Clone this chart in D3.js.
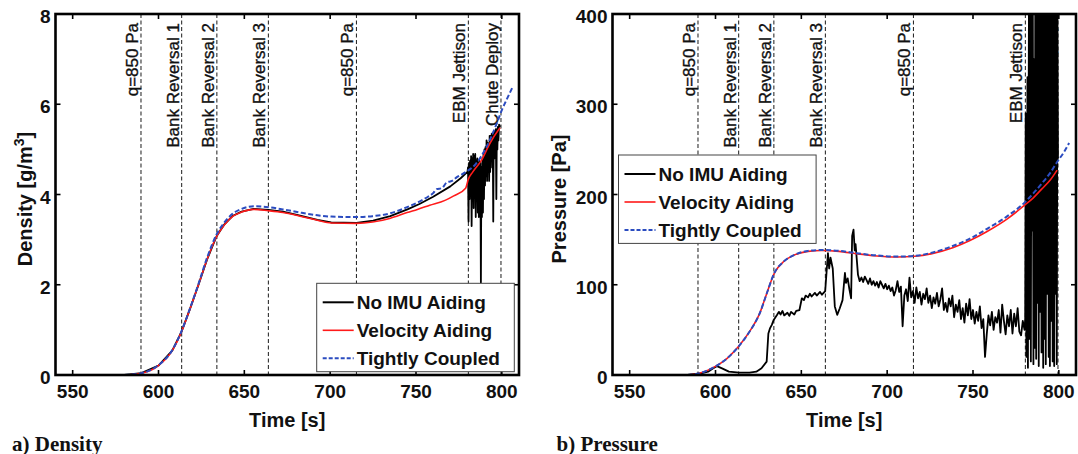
<!DOCTYPE html>
<html>
<head>
<meta charset="utf-8">
<script src="https://cdn.jsdelivr.net/npm/d3@7"></script>
<style>
  body { margin: 0; background: #fff; }
  svg text { font-family: "Liberation Sans", Arial, sans-serif; fill: #111; }
</style>
</head>
<body>
<svg id="chart" width="1078" height="454"></svg>
<script>

// ---- data ----

var xTicks = [550, 600, 650, 700, 750, 800];
var densityTicks = [0, 2, 4, 6, 8];
var pressureTicks = [0, 100, 200, 300, 400];

var seriesNames = ["No IMU Aiding", "Velocity Aiding", "Tightly Coupled"];

var eventTimes = [589.8, 613.5, 634, 664, 715.3, 780.5, 799.5];
var eventLabels = ["q=850 Pa", "Bank Reversal 1", "Bank Reversal 2", "Bank Reversal 3",
                   "q=850 Pa", "EBM Jettison", "Chute Deploy"];

// density [g/m^3]
var densityVelocity = [[580,0],[590,0.04],[600,0.21],[608,0.54],[613.3,0.95],[618.3,1.46],[623.3,2.0],
  [628.3,2.56],[633.9,3.07],[638.4,3.33],[643.4,3.52],[648.4,3.61],[655.4,3.67],[664,3.64],
  [672.5,3.6],[682.5,3.52],[692.6,3.43],[700.6,3.37],[715.3,3.36],[724.7,3.39],[734.7,3.47],
  [744.8,3.6],[750.8,3.67],[758,3.76],[766.9,3.87],[772,3.97],[778.9,4.14],[780.5,4.34],
  [782.9,4.49],[788,4.75],[793,5.13],[798,5.43],[799,5.48]];

var densityTight = [[580,0],[590,0.04],[600,0.22],[608,0.55],[613.3,0.96],[618.3,1.47],[623.3,2.02],
  [628.3,2.6],[633.9,3.12],[638.4,3.38],[643.4,3.58],[648.4,3.68],[655.4,3.74],[664,3.72],
  [672.5,3.67],[682.5,3.6],[692.6,3.54],[700.6,3.51],[715.3,3.5],[724.7,3.52],[734.7,3.58],
  [744.8,3.72],[752.8,3.86],[757,3.95],[760,4.03],[762,4.12],[765,4.14],[768,4.27],[771,4.3],
  [774,4.39],[777,4.45],[779,4.5],[784.9,4.68],[791,5.05],[797,5.57],[800,5.87],[803,6.12],[806,6.36]];

var densityNoImu = [[580,0],[590,0.04],[600,0.21],[608,0.54],[613.3,0.95],[618.3,1.46],[623.3,2.0],
  [628.3,2.56],[633.9,3.08],[638.4,3.34],[643.4,3.53],[648.4,3.62],[655.4,3.68],[664,3.66],
  [672.5,3.62],[682.5,3.53],[692.6,3.44],[700.6,3.38],[715.3,3.37],[725,3.42],[735,3.52],
  [745,3.67],[752,3.79],[760,3.95],[770,4.18],[776,4.36],[780,4.5],
  [780.3,4.6],[780.6,3.4],[780.9,4.7],[781.2,3.9],[781.5,4.75],[781.8,4.1],[782.1,4.85],
  [782.4,3.3],[782.7,4.8],[783,4.0],[783.3,4.9],[783.6,3.7],[783.9,4.85],[784.2,4.2],
  [784.5,4.9],[784.8,3.5],[785.1,4.75],[785.4,3.9],[785.7,4.8],[786,3.6],[786.3,4.7],
  [786.6,3.5],[786.9,4.75],[787.2,3.8],[787.5,4.7],[787.8,2.05],[788.1,4.6],[788.4,3.5],
  [788.7,4.8],[789,3.6],[789.3,4.9],[789.6,3.9],[789.9,5.0],[790.2,4.2],[790.5,5.05],
  [790.8,4.4],[791.1,5.2],[791.4,4.3],[791.7,5.15],[792,4.6],[792.3,5.1],[792.6,4.3],
  [792.9,5.3],[793.2,4.5],[793.5,5.3],[793.8,4.9],[794.1,5.35],[794.4,4.6],[794.7,5.3],
  [795,3.4],[795.3,5.4],[795.6,4.8],[795.9,5.4],[796.2,5.0],[796.5,5.45],[796.8,3.9],
  [797.1,5.45],[797.4,5.0],[797.7,5.5],[798,5.2],[798.4,5.55],[799,5.5]];

// pressure [Pa]
var pressureVelocity = [[583.7,0],[590.7,1.9],[599.7,9.3],[606.8,18.5],[613.4,31.5],[619.8,48],
  [625.8,68.5],[629.8,90],[634.3,113],[639.9,126],[645.9,133],[653.9,137],[661.9,138],[672,137],
  [682,134.4],[692,132.2],[706,130.7],[716.1,131.5],[726.1,134.5],[738.2,141],[748.2,149],
  [758.2,159],[770,173],[780,188],[785,196],[790,206],[795,216],[799,227]];

var pressureTight = [[583.7,0],[590.7,1.9],[599.7,9.3],[606.8,18.5],[613.4,31.5],[619.8,48],
  [625.8,68.5],[629.8,90],[634.3,113],[639.9,126],[645.9,133],[653.9,137.5],[661.9,138.5],[672,137.5],
  [682,135],[692,132.8],[706,131.2],[716.1,132],[726.1,135.5],[738.2,143],[748.2,151],
  [758.2,162],[770,176],[780,191],[785,201],[790,212],[795,224],[799,236],[803,247],[806,257]];

var pressureNoImu = [[583.7,0],[587,1],[591.7,1.9],[595.7,3.7],[598.7,7.4],[600.8,9.8],[603.8,7.4],
  [607.8,3.7],[613.8,2.6],[619.8,2.6],[623.8,3.7],[626.8,7.4],[629.8,14.8],[630.8,46],[631.8,52],
  [632.8,55.6],[633.9,61],[635.9,66.7],[636.9,70],[637.9,67],[639,71],[640,66],[641.9,69],
  [643,65.5],[644,70],[645.9,67],[647,71],[648.9,72],[650.3,85],[651.5,83],[652.5,88],
  [653.9,86],[655,90],[656,87],[657.9,91],[659,88],[660.9,92],[662,89],[663.9,93],[665.5,135],
  [666.2,118],[667,130],[668.3,118],[669.5,76],[670.9,66.7],[672.4,74],[674,83],[675.4,113],
  [676,102],[677,107],[678,95],[679,85],[679.6,154],[680.4,161],[681.1,138],[681.6,145],
  [683,111],[684,104],[685,108],[686,103],[687,109],[688,105],[689,101],[690,107],[691,100],
  [692,104],[693,99],[694,103],[695,97],[696,104],[697,100],[698,96],[699,101],[700,95],
  [701,99],[702,93],[703,97],[704,88],[705,94],[706,104],[707,92],[708,98],[709,54],[710,88],
  [711,95],[712,82],[713,108],[714,86],[715,93],[716,80],[717,97],[718,85],[719,92],[720,78],
  [721,90],[722,84],[723,96],[724,80],[725,88],[726,74],[727,86],[728,79],[729,91],[730,76],
  [731,84],[732,96],[733,72],[734,80],[735,70],[736,85],[737,76],[738,88],[739,64],[740,78],
  [741,70],[742,83],[743,62],[744,74],[745,58],[746,79],[747,66],[748,84],[749,62],[750,72],
  [751,57],[752,70],[753,60],[754,76],[755,52],[756,62],[757,20],[758,45],[759,66],[760,55],
  [761,70],[762,50],[763,64],[764,58],[765,72],[766,47],[767,78],[768,60],[769,45],[770,66],
  [771,54],[772,72],[773,46],[774,68],[775,54],[776,74],[777,48],[778,44],[779,60],[780,50],
  [780.4,62],[780.7,290],[781.1,20],[781.4,120],[781.7,330],[782,8],[782.3,230],[782.6,420],
  [783,40],[783.3,450],[783.7,15],[784.1,430],[784.4,160],[784.8,460],[785.2,12],[785.5,350],
  [786,30],[786.3,470],[786.8,18],[787.2,440],[787.5,80],[787.9,480],[788.3,10],[788.6,420],
  [789.1,70],[789.5,460],[789.9,25],[790.2,300],[790.5,440],[790.9,8],[791.3,470],[791.6,40],
  [792.1,430],[792.4,12],[792.9,460],[793.3,90],[793.6,450],[794.1,20],[794.4,480],[794.8,10],
  [795.3,440],[795.6,60],[796.1,470],[796.4,15],[796.8,450],[797.3,10],[797.6,460],[798,90],
  [798.4,470],[798.8,12],[799.2,400],[799.5,240]];

// ---- drawing ----

var svg = d3.select("#chart");
var colors = ["#000000", "#ff1a1a", "#2b4cc0"];
var widths = [1.8, 1.6, 2];
var dashes = [null, null, "5,2.5"];

function drawPanel(p) {
    var x = d3.scaleLinear().domain([540, 810]).range([p.left, p.right]);
    var y = d3.scaleLinear().domain(p.yDomain).range([p.bottom, p.top]);

    var g = svg.append("g");

    // clip region for the data
    g.append("clipPath").attr("id", p.id + "-clip")
        .append("rect")
        .attr("x", p.left).attr("y", p.top)
        .attr("width", p.right - p.left).attr("height", p.bottom - p.top);

    // event lines + labels (under the data)
    g.selectAll(".event").data(eventTimes).enter()
        .append("line")
        .attr("x1", function(d){ return x(d); })
        .attr("x2", function(d){ return x(d); })
        .attr("y1", p.top).attr("y2", p.bottom)
        .attr("stroke", "#000").attr("stroke-width", 0.9)
        .attr("stroke-dasharray", "4,2.5");

    g.selectAll(".evlabel").data(eventTimes).enter()
        .append("text")
        .attr("transform", function(d){ return "translate(" + (x(d) - 3) + "," + (p.top + 9) + ") rotate(-90)"; })
        .attr("text-anchor", "end")
        .style("font-size", "17px")
        .style("stroke", "#111").style("stroke-width", 0.35)
        .text(function(d, i){ return eventLabels[i]; });

    // data lines: black first, then red, then blue
    var lineRaw = d3.line()
        .x(function(d){ return x(d[0]); })
        .y(function(d){ return y(d[1]); });
    var lineSmooth = d3.line()
        .x(function(d){ return x(d[0]); })
        .y(function(d){ return y(d[1]); })
        .curve(d3.curveMonotoneX);

    var dataG = g.append("g").attr("clip-path", "url(#" + p.id + "-clip)");
    p.series.forEach(function(s, i) {
        dataG.append("path")
            .datum(s)
            .attr("d", i == 0 ? lineRaw : lineSmooth)
            .attr("fill", "none")
            .attr("stroke", colors[i])
            .attr("stroke-width", widths[i])
            .attr("stroke-linejoin", "round")
            .attr("stroke-dasharray", dashes[i]);
    });

    // ticks on all four sides, pointing in
    var tickLen = 5;
    xTicks.forEach(function(t) {
        g.append("line").attr("x1", x(t)).attr("x2", x(t))
            .attr("y1", p.bottom).attr("y2", p.bottom - tickLen)
            .attr("stroke", "#000").attr("stroke-width", 1.6);
        g.append("line").attr("x1", x(t)).attr("x2", x(t))
            .attr("y1", p.top).attr("y2", p.top + tickLen)
            .attr("stroke", "#000").attr("stroke-width", 1.6);
        g.append("text")
            .attr("x", x(t)).attr("y", p.bottom + 22.5)
            .attr("text-anchor", "middle")
            .style("font-size", "19px").style("font-weight", "bold")
            .text(t);
    });
    p.yTicks.forEach(function(t) {
        g.append("line").attr("x1", p.left).attr("x2", p.left + tickLen)
            .attr("y1", y(t)).attr("y2", y(t))
            .attr("stroke", "#000").attr("stroke-width", 1.6);
        g.append("line").attr("x1", p.right).attr("x2", p.right - tickLen)
            .attr("y1", y(t)).attr("y2", y(t))
            .attr("stroke", "#000").attr("stroke-width", 1.6);
        g.append("text")
            .attr("x", p.left - 5).attr("y", y(t) + 9)
            .attr("text-anchor", "end")
            .style("font-size", "19px").style("font-weight", "bold")
            .text(t);
    });

    // box
    g.append("rect")
        .attr("x", p.left).attr("y", p.top)
        .attr("width", p.right - p.left).attr("height", p.bottom - p.top)
        .attr("fill", "none").attr("stroke", "#000").attr("stroke-width", 2.6);

    // axis titles
    g.append("text")
        .attr("x", (p.left + p.right) / 2).attr("y", 427)
        .attr("text-anchor", "middle")
        .style("font-size", "20px").style("font-weight", "bold")
        .text("Time [s]");

    var yt = g.append("text")
        .attr("transform", "translate(" + p.yLabelX + ",199) rotate(-90)")
        .attr("text-anchor", "middle")
        .style("font-size", "20px").style("font-weight", "bold");
    yt.append("tspan").text(p.yLabel);
    if (p.yLabelSup) {
        yt.append("tspan").attr("dy", -8).style("font-size", "14px").text(p.yLabelSup);
        yt.append("tspan").attr("dy", 8).text(p.yLabelEnd);
    }

    // legend
    var lg = g.append("g").attr("transform", "translate(" + p.legendX + "," + p.legendY + ")");
    lg.append("rect")
        .attr("width", 197.6).attr("height", 88.4)
        .attr("fill", "#fff").attr("stroke", "#444").attr("stroke-width", 1);
    seriesNames.forEach(function(name, i) {
        var ry = 19 + i * 28;
        lg.append("line")
            .attr("x1", 6).attr("x2", 37).attr("y1", ry).attr("y2", ry)
            .attr("stroke", colors[i]).attr("stroke-width", i == 0 ? 2 : widths[i])
            .attr("stroke-dasharray", i == 2 ? "4,2" : null);
        lg.append("text")
            .attr("x", 40).attr("y", ry + 7)
            .style("font-size", "19px").style("font-weight", "bold")
            .text(name);
    });

    // caption under the panel
    svg.append("text")
        .attr("x", p.captionX).attr("y", 450.5)
        .style("font-family", "'Liberation Serif', 'Times New Roman', serif")
        .style("font-size", "21px").style("font-weight", "bold")
        .text(p.caption);
}

drawPanel({
    id: "density",
    left: 55.5, right: 519, top: 14, bottom: 375,
    yDomain: [0, 8], yTicks: densityTicks,
    yLabel: "Density [g/m", yLabelSup: "3", yLabelEnd: "]", yLabelX: 32,
    series: [densityNoImu, densityVelocity, densityTight],
    legendX: 316.7, legendY: 283.3,
    captionX: 12, caption: "a) Density"
});

drawPanel({
    id: "pressure",
    left: 612.5, right: 1076, top: 14, bottom: 375,
    yDomain: [0, 400], yTicks: pressureTicks,
    yLabel: "Pressure [Pa]", yLabelX: 566,
    series: [pressureNoImu, pressureVelocity, pressureTight],
    legendX: 618.5, legendY: 155,
    captionX: 556.5, caption: "b) Pressure"
});

</script>
</body>
</html>
